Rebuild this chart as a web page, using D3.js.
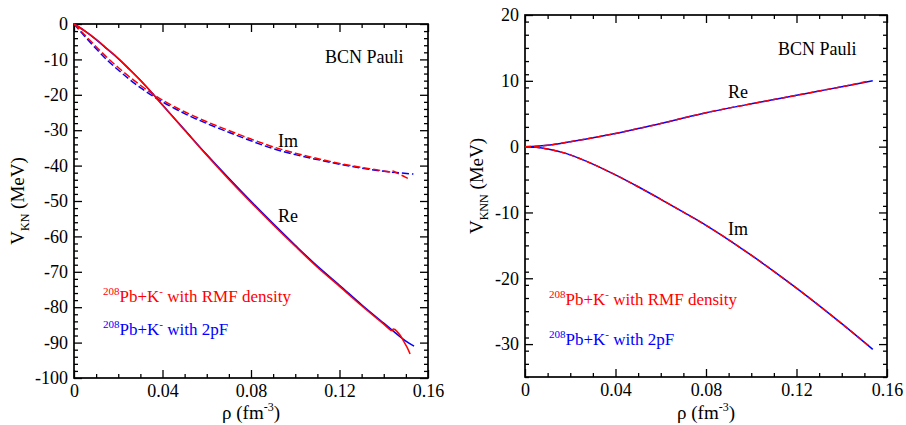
<!DOCTYPE html>
<html><head><meta charset="utf-8">
<script src="https://cdn.jsdelivr.net/npm/d3@7"></script>
<style>
html,body{margin:0;padding:0;background:#fff;}
</style></head>
<body><svg id="c" width="906" height="425"></svg>
<script>
// ---------- data ----------
const rhoMajor = [0, 0.04, 0.08, 0.12, 0.16];
const rhoLabels = ["0", "0.04", "0.08", "0.12", "0.16"];
const rhoMinor = [0.01,0.02,0.03,0.05,0.06,0.07,0.09,0.10,0.11,0.13,0.14,0.15];

const leftYTicks = [0,-10,-20,-30,-40,-50,-60,-70,-80,-90,-100];
const rightYTicks = [20,10,0,-10,-20,-30];

// left panel: V_KN
const re2pF_rho = [0,.005,.01,.015,.02,.025,.03,.035,.04,.05,.06,.07,.08,.09,.10,.11,.12,.13,.14,.15,.1537];
const re2pF_val = [0,-2.0,-4.4,-7.1,-9.8,-12.8,-15.9,-19.3,-22.9,-29.9,-36.9,-43.6,-50.1,-56.4,-62.5,-68.4,-73.8,-79.3,-84.5,-89.6,-91.0];
const reRMF_rho = [0,.005,.01,.015,.02,.025,.03,.035,.04,.05,.06,.07,.08,.09,.10,.11,.12,.13,.14,.1436,.1442,.145,.146,.1475,.149,.1505,.1519];
const reRMF_val = [0,-2.0,-4.3,-7.0,-9.7,-12.7,-15.9,-19.3,-22.9,-30.0,-37.1,-43.9,-50.4,-56.7,-62.8,-68.7,-74.1,-79.6,-84.8,-86.6,-86.2,-86.3,-86.9,-88.0,-89.6,-91.3,-93.2];
const im2pF_rho = [0,.005,.01,.015,.02,.025,.03,.035,.04,.05,.06,.07,.08,.09,.10,.11,.12,.13,.14,.1534];
const im2pF_val = [0,-3.6,-7.0,-10.2,-13.0,-15.6,-18.0,-20.1,-22.0,-25.3,-28.1,-30.6,-33.0,-35.2,-36.9,-38.3,-39.6,-40.7,-41.6,-42.4];
const imRMF_rho = [0,.005,.01,.015,.02,.025,.03,.035,.04,.05,.06,.07,.08,.09,.10,.11,.12,.13,.14,.1436,.1442,.145,.147,.149,.1511];
const imRMF_val = [0,-3.2,-6.4,-9.5,-12.3,-14.9,-17.3,-19.5,-21.5,-24.8,-27.6,-30.1,-32.5,-34.7,-36.5,-38.0,-39.4,-40.5,-41.5,-41.8,-41.5,-41.8,-42.4,-43.0,-43.7];

// right panel: V_KNN
const rRe2pF_rho = [0,.005,.01,.015,.02,.03,.04,.05,.06,.07,.08,.09,.10,.11,.12,.13,.14,.1537];
const rRe2pF_val = [0,0.05,0.2,0.45,0.75,1.35,2.0,2.75,3.5,4.35,5.15,5.85,6.5,7.15,7.8,8.45,9.1,10.0];
const rIm2pF_rho = [0,.005,.01,.015,.02,.03,.04,.05,.06,.07,.08,.09,.10,.11,.12,.13,.14,.1537];
const rIm2pF_val = [0,-0.1,-0.35,-0.75,-1.25,-2.65,-4.3,-6.1,-8.0,-9.95,-11.95,-14.15,-16.5,-18.95,-21.5,-24.15,-26.9,-30.8];
const rReRMF_rho = [0,.005,.01,.015,.02,.03,.04,.05,.06,.07,.08,.09,.10,.11,.12,.13,.14,.1436,.1519];
const rReRMF_val = [0,0.05,0.2,0.45,0.75,1.35,2.0,2.75,3.5,4.35,5.15,5.85,6.5,7.15,7.8,8.45,9.1,9.35,9.95];
const rImRMF_rho = [0,.005,.01,.015,.02,.03,.04,.05,.06,.07,.08,.09,.10,.11,.12,.13,.14,.1436,.1517];
const rImRMF_val = [0,-0.1,-0.35,-0.75,-1.25,-2.65,-4.3,-6.1,-8.0,-9.95,-11.95,-14.15,-16.5,-18.95,-21.5,-24.15,-26.9,-27.9,-30.2];

// ---------- drawing ----------
const FONT = '"Liberation Serif"';
const svg = d3.select("#c");
const RED = "#ff0000", BLUE = "#0000ff";

function zip(a, b){ return a.map((v,i)=>[v,b[i]]); }

function panel(p){
  const x = d3.scaleLinear().domain([0,0.16]).range([p.x0,p.x1]);
  const y = d3.scaleLinear().domain(p.ydom).range([p.y1,p.y0]);
  const g = svg.append("g");
  const styleAxis = sel => {
    sel.attr("font-family", null).attr("font-size", null);
    sel.select(".domain").remove();
    sel.selectAll("line").attr("stroke","#000").attr("stroke-width",1.3);
    sel.selectAll("text").attr("fill","#000")
       .style("font-family",FONT).style("font-size","18px");
  };
  const yMinor = d3.range(p.ydom[0], p.ydom[1]+0.001, 2).filter(v=>v%10!==0);
  g.append("g").attr("transform",`translate(0,${p.y1})`)
    .call(d3.axisBottom(x).tickValues(rhoMajor).tickFormat((d,i)=>rhoLabels[i]).tickSize(-8).tickPadding(6)).call(styleAxis);
  g.append("g").attr("transform",`translate(0,${p.y1})`)
    .call(d3.axisBottom(x).tickValues(rhoMinor).tickFormat("").tickSize(-4)).call(styleAxis);
  g.append("g").attr("transform",`translate(0,${p.y0})`)
    .call(d3.axisTop(x).tickValues(rhoMajor).tickFormat("").tickSize(-8)).call(styleAxis);
  g.append("g").attr("transform",`translate(0,${p.y0})`)
    .call(d3.axisTop(x).tickValues(rhoMinor).tickFormat("").tickSize(-4)).call(styleAxis);
  g.append("g").attr("transform",`translate(${p.x0},0)`)
    .call(d3.axisLeft(y).tickValues(p.yTicks).tickFormat(d=>String(d)).tickSize(-8).tickPadding(6)).call(styleAxis);
  g.append("g").attr("transform",`translate(${p.x0},0)`)
    .call(d3.axisLeft(y).tickValues(yMinor).tickFormat("").tickSize(-4)).call(styleAxis);
  g.append("g").attr("transform",`translate(${p.x1},0)`)
    .call(d3.axisRight(y).tickValues(p.yTicks).tickFormat("").tickSize(-8)).call(styleAxis);
  g.append("g").attr("transform",`translate(${p.x1},0)`)
    .call(d3.axisRight(y).tickValues(yMinor).tickFormat("").tickSize(-4)).call(styleAxis);
  g.append("rect").attr("x",p.x0).attr("y",p.y0).attr("width",p.x1-p.x0).attr("height",p.y1-p.y0)
    .attr("fill","none").attr("stroke","#000").attr("stroke-width",1.7);

  const line = d3.line().x(d=>x(d[0])).y(d=>y(d[1])).curve(d3.curveCatmullRom.alpha(0.5));
  p.series.forEach(s=>{
    g.append("path").attr("d",line(zip(s.rho,s.val))).attr("fill","none")
      .attr("stroke",s.color).attr("stroke-width",1.5)
      .attr("stroke-dasharray",s.dash||null).attr("stroke-linejoin","round");
  });
  return {x,y,g};
}

panel({x0:74,x1:428,y0:24,y1:378,ydom:[-100,0],yTicks:leftYTicks,series:[
  {rho:im2pF_rho,val:im2pF_val,color:BLUE,dash:"7,3"},
  {rho:imRMF_rho,val:imRMF_val,color:RED,dash:"7,3"},
  {rho:re2pF_rho,val:re2pF_val,color:BLUE},
  {rho:reRMF_rho,val:reRMF_val,color:RED}
]});
panel({x0:525,x1:887,y0:15,y1:377,ydom:[-35,20],yTicks:rightYTicks,series:[
  {rho:rRe2pF_rho,val:rRe2pF_val,color:BLUE},
  {rho:rIm2pF_rho,val:rIm2pF_val,color:BLUE},
  {rho:rReRMF_rho,val:rReRMF_val,color:RED,dash:"6,3"},
  {rho:rImRMF_rho,val:rImRMF_val,color:RED,dash:"6,3"}
]});

function T(sel){ return sel.style("font-family",FONT).style("white-space","pre"); }
function txt(x,y,s){
  return T(svg.append("text")).attr("x",x).attr("y",y).style("font-size","18px").attr("fill","#000").text(s);
}
txt(325,63,"BCN Pauli");
txt(278,147,"Im");
txt(278,222,"Re");
txt(778,55,"BCN Pauli");
txt(728,98,"Re");
txt(728,235,"Im");

function legend(x,y,label,color){
  const t = T(svg.append("text")).attr("x",x).attr("y",y).attr("fill",color).style("font-size","17px");
  t.append("tspan").style("font-size","11px").attr("dy",-7).text("208");
  t.append("tspan").attr("dy",7).text("Pb+K");
  t.append("tspan").style("font-size","11px").attr("dy",-7).text("-");
  t.append("tspan").attr("dy",7).text(" with " + label);
}
legend(103,302,"RMF density",RED);
legend(103,335,"2pF",BLUE);
legend(549,305,"RMF density",RED);
legend(549,345,"2pF",BLUE);

function xTitle(cx){
  const t = T(svg.append("text")).attr("x",cx).attr("y",419).attr("text-anchor","middle").style("font-size","19px");
  t.append("tspan").text("ρ (fm");
  t.append("tspan").style("font-size","12px").attr("dy",-8).text("-3");
  t.append("tspan").attr("dy",8).text(")");
}
xTitle(251); xTitle(706);

function yTitle(bx,cy,sub){
  const t = T(svg.append("text")).attr("transform",`translate(${bx},${cy}) rotate(-90)`)
    .attr("text-anchor","middle").style("font-size","19px");
  t.append("tspan").text("V");
  t.append("tspan").style("font-size","12px").attr("dy",5).text(sub);
  t.append("tspan").attr("dy",-5).text(" (MeV)");
}
yTitle(24,201,"KN");
yTitle(483,186,"KNN");
</script></body></html>
